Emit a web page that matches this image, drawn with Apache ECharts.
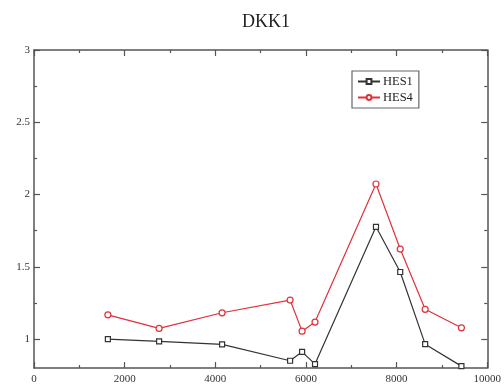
<!DOCTYPE html>
<html>
<head>
<meta charset="utf-8">
<script src="https://cdn.jsdelivr.net/npm/echarts@6/dist/echarts.min.js"></script>
<style>
  html, body { margin: 0; padding: 0; background: #fff; }
  #chart { width: 504px; height: 386px; }
</style>
</head>
<body>
<div id="chart"></div>
<script>
// DKK1 expression profile for HES1 and HES4
const positions = [1630, 2760, 4150, 5650, 5915, 6200, 7545, 8080, 8630, 9430];
const hes1 = [1.0, 0.984, 0.963, 0.85, 0.912, 0.827, 1.777, 1.464, 0.965, 0.813];
const hes4 = [1.168, 1.074, 1.182, 1.27, 1.055, 1.118, 2.073, 1.623, 1.206, 1.078];
const yMajor = [1, 1.5, 2, 2.5, 3];
const yMinor = [1.25, 1.75, 2.25, 2.75];
const xMajor = [0, 2000, 4000, 6000, 8000, 10000];
const xMinor = [1000, 3000, 5000, 7000, 9000];

const FONT = '"Liberation Serif", "DejaVu Serif", serif';
const AXIS_COLOR = '#555';

function xAx(pos, ticks, len, labels, lineShow) {
  return {
    type: 'value', position: pos, min: 0, max: 10000,
    axisLine: { show: lineShow, onZero: false, lineStyle: { color: AXIS_COLOR, width: 1.5 } },
    axisTick: { show: true, inside: true, length: len, customValues: ticks, lineStyle: { color: AXIS_COLOR, width: 1.2 } },
    axisLabel: labels ? {
      show: true, customValues: ticks, color: '#333', fontFamily: FONT, fontSize: 11, margin: 6,
      formatter: v => String(v)
    } : { show: false },
    splitLine: { show: false }
  };
}
function yAx(pos, ticks, len, labels, lineShow) {
  return {
    type: 'value', position: pos, min: 0.8, max: 3,
    axisLine: { show: lineShow, onZero: false, lineStyle: { color: AXIS_COLOR, width: 1.5 } },
    axisTick: { show: true, inside: true, length: len, customValues: ticks, lineStyle: { color: AXIS_COLOR, width: 1.2 } },
    axisLabel: labels ? { show: true, customValues: ticks, color: '#333', fontFamily: FONT, fontSize: 11, margin: 4 } : { show: false },
    splitLine: { show: false }
  };
}

const chart = echarts.init(document.getElementById('chart'), null, { renderer: 'canvas' });
chart.setOption({
  animation: false,
  backgroundColor: '#fff',
  title: {
    text: 'DKK1', left: 261, top: 8, textAlign: 'center',
    textStyle: { fontFamily: FONT, fontSize: 18, fontWeight: 'normal', color: '#222' }
  },
  grid: { left: 34, right: 15, top: 50, bottom: 18, containLabel: false },
  legend: {
    orient: 'vertical', left: 352, top: 71,
    padding: [4, 6, 4, 5], itemGap: 3, itemWidth: 22, itemHeight: 6,
    borderColor: '#666', borderWidth: 1.2, borderRadius: 0,
    textStyle: { fontFamily: FONT, fontSize: 12.5, color: '#222', padding: [0, 0, 0, -2] },
    data: ['HES1', 'HES4']
  },
  xAxis: [
    xAx('bottom', xMajor, 6, true, true),
    xAx('bottom', xMinor, 3, false, false),
    xAx('top', xMajor, 6, false, true),
    xAx('top', xMinor, 3, false, false)
  ],
  yAxis: [
    yAx('left', yMajor, 6, true, true),
    yAx('left', yMinor, 3, false, false),
    yAx('right', yMajor, 6, false, true),
    yAx('right', yMinor, 3, false, false)
  ],
  series: [
    {
      name: 'HES1', type: 'line', xAxisIndex: 0, yAxisIndex: 0,
      data: positions.map((x, i) => [x, hes1[i]]),
      symbol: 'rect', symbolSize: 5, showAllSymbol: true,
      lineStyle: { color: '#333', width: 1.2 },
      itemStyle: { color: '#fff', borderColor: '#333', borderWidth: 1.2 }
    },
    {
      name: 'HES4', type: 'line', xAxisIndex: 0, yAxisIndex: 0,
      data: positions.map((x, i) => [x, hes4[i]]),
      symbol: 'circle', symbolSize: 6, showAllSymbol: true,
      lineStyle: { color: '#e0313a', width: 1.2 },
      itemStyle: { color: '#fff', borderColor: '#e0313a', borderWidth: 1.2 }
    }
  ]
});
</script>
</body>
</html>
